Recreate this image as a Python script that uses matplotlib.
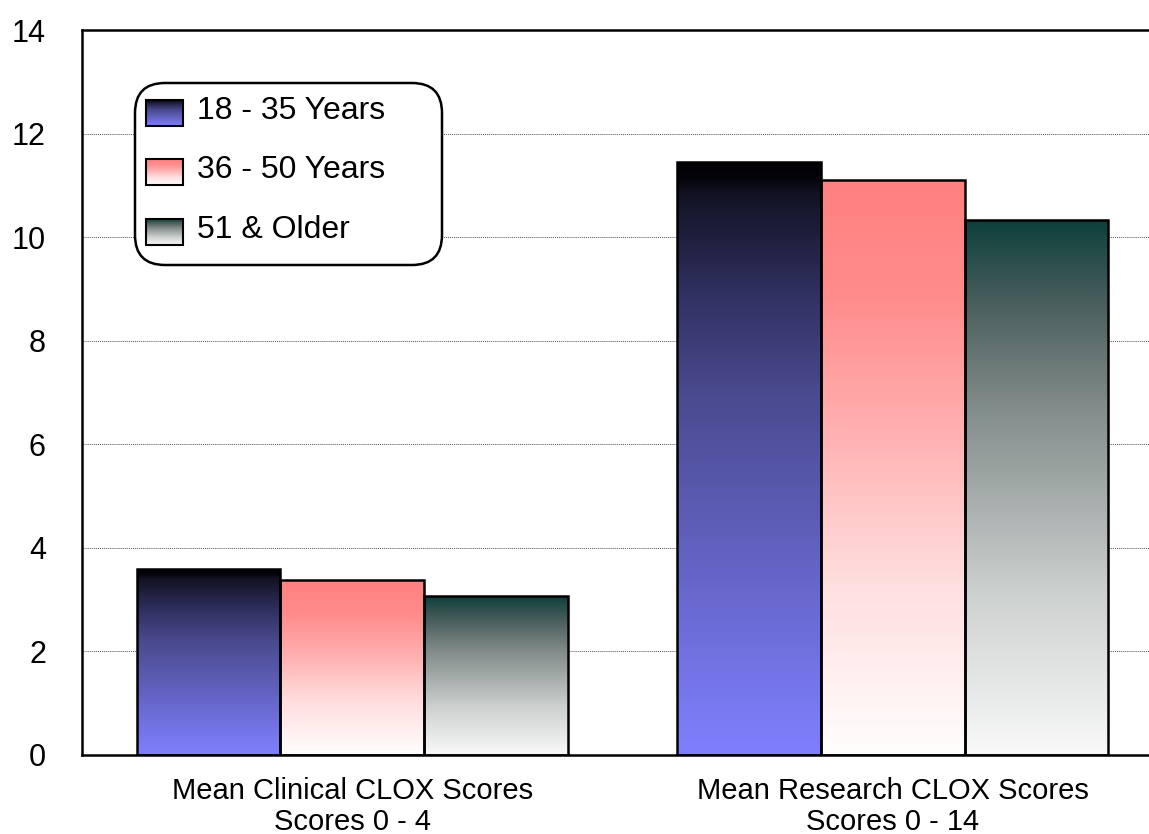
import numpy as np
import matplotlib
matplotlib.use('Agg')
import matplotlib.pyplot as plt
from matplotlib.colors import LinearSegmentedColormap
from matplotlib.patches import FancyBboxPatch, Rectangle

plt.rcParams['font.family'] = ['Liberation Sans', 'DejaVu Sans']

# Mean CLOX scores by age group
categories = ['Mean Clinical CLOX Scores\nScores 0 - 4', 'Mean Research CLOX Scores\nScores 0 - 14']
groups = ['18 - 35 Years', '36 - 50 Years', '51 & Older']
young = [3.59, 11.45]
middle = [3.38, 11.10]
older = [3.07, 10.33]
yticks = [0, 2, 4, 6, 8, 10, 12, 14]


def rgb(*c):
    return tuple(v / 255 for v in c)


# vertical gradients, value 0 = bottom of bar, 1 = top of bar
cmaps = [
    LinearSegmentedColormap.from_list('blue', [
        (0.0, rgb(128, 128, 255)), (0.6, rgb(75, 75, 145)), (0.77, rgb(50, 50, 100)),
        (0.95, rgb(18, 18, 35)), (0.975, rgb(4, 4, 10)), (1.0, rgb(0, 0, 5))]),
    LinearSegmentedColormap.from_list('pink', [
        (0.0, rgb(255, 254, 254)), (0.3, rgb(255, 222, 222)), (0.6, rgb(255, 170, 170)),
        (0.8, rgb(255, 140, 140)), (1.0, rgb(255, 128, 128))]),
    LinearSegmentedColormap.from_list('green', [
        (0.0, rgb(248, 249, 248)), (0.3, rgb(205, 209, 208)), (0.66, rgb(128, 138, 136)),
        (0.85, rgb(72, 94, 92)), (1.0, rgb(14, 64, 60))]),
]

W, H = 1149, 834
ax_w, ax_h = W - 82, 725
fig = plt.figure(figsize=(W / 100, H / 100), dpi=100)
ax = fig.add_axes([82 / W, 79 / H, ax_w / W, ax_h / H])

x = np.arange(len(categories))
width = 0.266
grad = np.linspace(0, 1, 256).reshape(-1, 1)

for i, (vals, cmap) in enumerate(zip([young, middle, older], cmaps)):
    bars = ax.bar(x + (i - 1) * width, vals, width, facecolor='none',
                  edgecolor='black', linewidth=1.8, zorder=3)
    for b in bars:
        x0, w, h = b.get_x(), b.get_width(), b.get_height()
        im = ax.imshow(grad, cmap=cmap, origin='lower', aspect='auto',
                       extent=[x0, x0 + w, 0, h], zorder=2, interpolation='bilinear')
        im.set_clip_path(b)

ax.set_yticks(yticks)
ax.set_xticks(x)
ax.set_xticklabels(categories, fontsize=21, linespacing=1.12)
ax.tick_params(axis='y', length=0, pad=26, labelsize=22)
ax.tick_params(axis='x', length=0, pad=16)
ax.grid(axis='y', linestyle=(0, (1, 1)), color='#555555', linewidth=0.7, zorder=1)
ax.spines['right'].set_visible(False)
for s in ['top', 'left', 'bottom']:
    ax.spines[s].set_linewidth(1.8)

# legend with gradient swatches (axes fractions)
box = FancyBboxPatch((53 / ax_w, 490 / ax_h), 307 / ax_w, 182 / ax_h,
                     transform=ax.transAxes,
                     boxstyle='round,pad=0,rounding_size=%f' % (30 / ax_w),
                     mutation_aspect=ax_w / ax_h, facecolor='white',
                     edgecolor='black', linewidth=1.8, zorder=5)
ax.add_patch(box)
lx0, sw_w, sw_h = 64 / ax_w, 37 / ax_w, 26 / ax_h
for k, (label, cmap) in enumerate(zip(groups, cmaps)):
    yc = (642 - k * 59.5) / ax_h
    sw = Rectangle((lx0, yc - sw_h / 2), sw_w, sw_h, transform=ax.transAxes,
                   facecolor='none', edgecolor='black', linewidth=1.5, zorder=7)
    ax.add_patch(sw)
    ax.imshow(grad, cmap=cmap, origin='lower', aspect='auto',
              extent=[lx0, lx0 + sw_w, yc - sw_h / 2, yc + sw_h / 2],
              transform=ax.transAxes, zorder=6)
    ax.text(115 / ax_w, yc + 2 / ax_h, label, transform=ax.transAxes, fontsize=23,
            va='center', ha='left', zorder=7)

ax.set_xlim(-0.5, 1.5 - 14 / 541)
ax.set_ylim(0, 14)

fig.savefig('out.png', dpi=100)
